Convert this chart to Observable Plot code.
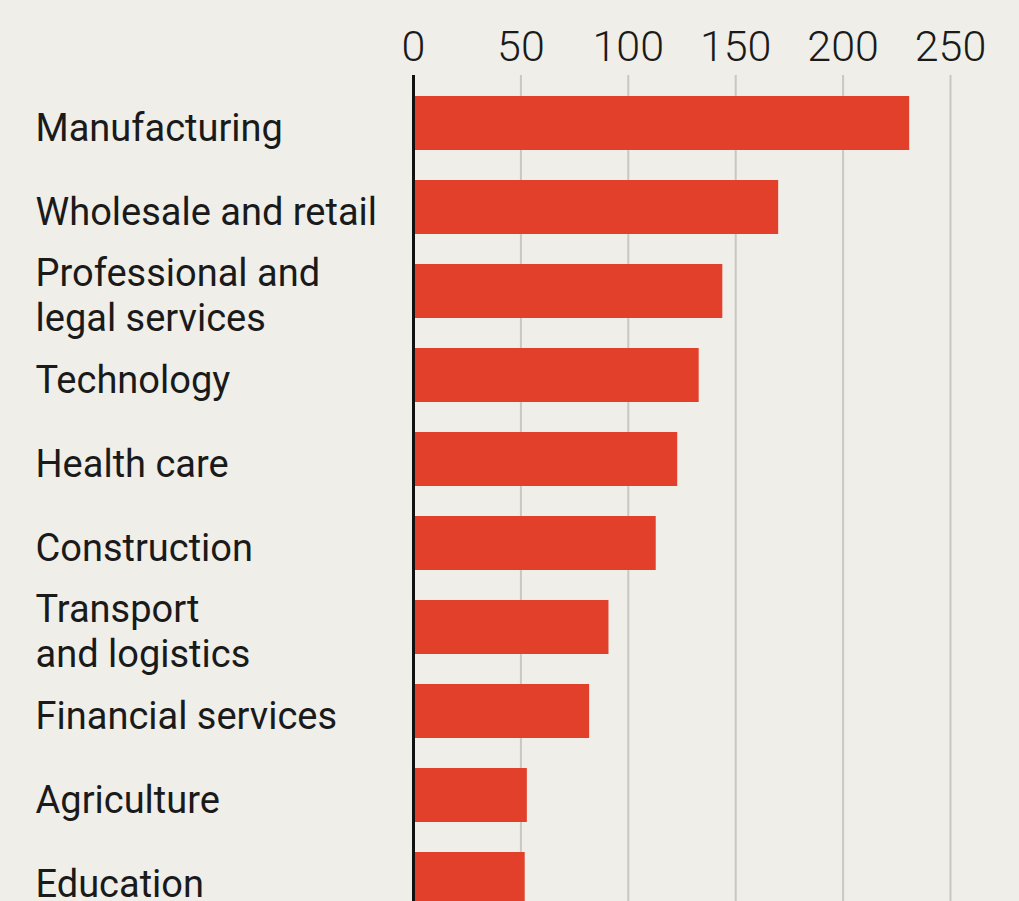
<!DOCTYPE html>
<html>
<head>
<meta charset="utf-8">
<script src="https://cdn.jsdelivr.net/npm/d3@7"></script>
<script src="https://cdn.jsdelivr.net/npm/@observablehq/plot@0.6"></script>
<style>
  html, body { margin: 0; padding: 0; background: #efeee8; overflow: hidden; }
  #chart { width: 1019px; height: 901px; overflow: hidden; }
</style>
</head>
<body>
<div id="chart"></div>
<script>
const categories = [
  "Manufacturing",
  "Wholesale and retail",
  "Professional and legal services",
  "Technology",
  "Health care",
  "Construction",
  "Transport and logistics",
  "Financial services",
  "Agriculture",
  "Education"
];
const labels = [
  "Manufacturing",
  "Wholesale and retail",
  "Professional and\nlegal services",
  "Technology",
  "Health care",
  "Construction",
  "Transport\nand logistics",
  "Financial services",
  "Agriculture",
  "Education"
];
const values = [231, 170, 144, 133, 123, 113, 91, 82, 53, 52];
const xTicks = [0, 50, 100, 150, 200, 250];

const data = categories.map((c, i) => ({category: c, value: values[i]}));
const labelOf = new Map(categories.map((c, i) => [c, labels[i]]));

const chart = Plot.plot({
  width: 1019,
  height: 927,
  marginTop: 75,
  marginLeft: 413,
  marginRight: 69,
  marginBottom: 0,
  style: {background: "transparent", fontFamily: "Roboto, sans-serif", color: "#1a1a1a"},
  x: {domain: [0, 250], axis: null},
  y: {domain: categories, paddingInner: 0.363, paddingOuter: 0.206, axis: null},
  marks: [
    Plot.gridX(xTicks, {stroke: "#c8c8c0", strokeOpacity: 1, strokeWidth: 2}),
    Plot.barX(data, {x: "value", y: "category", fill: "#e3402b"}),
    Plot.ruleX([0], {stroke: "#111", strokeWidth: 3}),
    Plot.axisX(xTicks, {anchor: "top", tickSize: 0, tickPadding: 15, fontSize: 43, fontFamily: "Roboto", fontWeight: 300, fill: "#1a1a1a", label: null}),
    Plot.axisY({anchor: "left", tickSize: 0, tickPadding: 378, textAnchor: "start", fontSize: 38, lineHeight: 1.18, dy: 3, fill: "#1a1a1a", label: null, tickFormat: d => labelOf.get(d)})
  ]
});
document.getElementById("chart").appendChild(chart);
</script>
</body>
</html>
